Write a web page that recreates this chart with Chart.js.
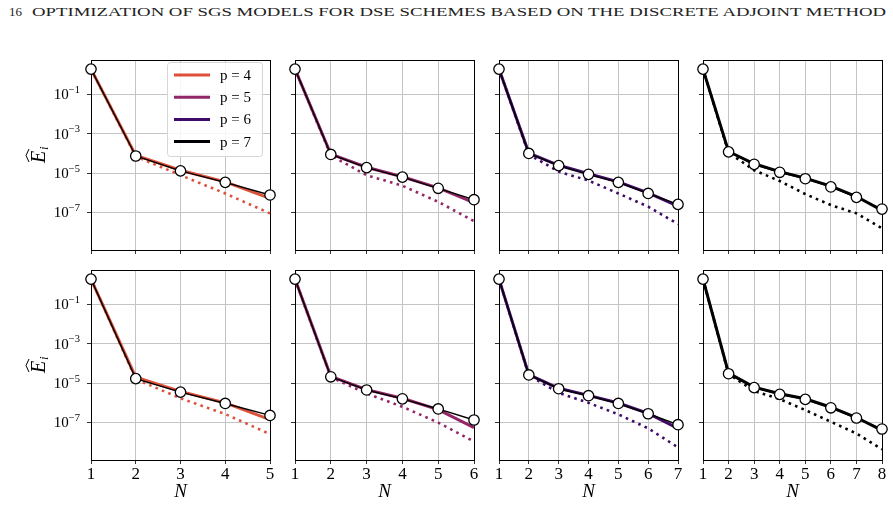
<!DOCTYPE html>
<html>
<head>
<meta charset="utf-8">
<script src="https://cdn.jsdelivr.net/npm/chart.js@4"></script>
<style>
  body { margin: 0; background: #fff; width: 893px; height: 505px; position: relative; overflow: hidden; }
  canvas { position: absolute; left: 0; top: 0; }
  .hd { position: absolute; top: 4px; font-family: "Liberation Serif", serif; font-size: 13px; color: #222; white-space: nowrap; transform-origin: 0 0; }
</style>
</head>
<body>
<div class="hd" id="pg" style="left:9px">16</div>
<div class="hd" id="title" style="left:32px">OPTIMIZATION OF SGS MODELS FOR DSE SCHEMES BASED ON THE DISCRETE ADJOINT METHOD</div>
<script>
const pLabels = ["p = 4", "p = 5", "p = 6", "p = 7"];
const pColors = ["#dd513a", "#932667", "#420a68", "#000004"];
const yTickVals = [1e-7, 1e-5, 1e-3, 1e-1];
const yTickExp = ["\u22127", "\u22125", "\u22123", "\u22121"];
const yMin = 1.26e-9;
const yMax = 5.5;

// top row, one panel per p
const topMarkP4 = [1.9, 7.4e-5, 1.3e-5, 3.4e-6, 7.8e-7];
const topSolidP4 = [1.9, 8.0e-5, 1.4e-5, 3.6e-6, 5.2e-7];
const topDotP4 = [1.9, 7.0e-5, 7.9e-6, 9.3e-7, 9.1e-8];

const topMarkP5 = [1.9, 8.9e-5, 1.9e-5, 6.3e-6, 1.7e-6, 4.5e-7];
const topSolidP5 = [1.9, 9.2e-5, 2.0e-5, 6.6e-6, 1.8e-6, 3.2e-7];
const topDotP5 = [1.9, 7.9e-5, 7.9e-6, 2.3e-6, 3.5e-7, 3.7e-8];

const topMarkP6 = [1.9, 1.0e-4, 2.4e-5, 8.7e-6, 3.4e-6, 9.3e-7, 2.6e-7];
const topSolidP6 = [1.9, 1.05e-4, 2.5e-5, 9.3e-6, 3.6e-6, 1.0e-6, 2.1e-7];
const topDotP6 = [1.9, 8.9e-5, 1.2e-5, 4.2e-6, 9.3e-7, 2.0e-7, 2.6e-8];

const topMarkP7 = [1.9, 1.2e-4, 2.8e-5, 1.1e-5, 5.2e-6, 2.0e-6, 5.9e-7, 1.5e-7];
const topSolidP7 = [1.9, 1.25e-4, 3.0e-5, 1.2e-5, 5.6e-6, 2.2e-6, 6.5e-7, 1.3e-7];
const topDotP7 = [1.9, 1.1e-4, 1.4e-5, 4.0e-6, 8.7e-7, 2.4e-7, 9.1e-8, 1.6e-8];

// bottom row
const botMarkP4 = [1.9, 1.7e-5, 3.5e-6, 9.3e-7, 2.3e-7];
const botSolidP4 = [1.9, 2.0e-5, 3.8e-6, 1.0e-6, 1.4e-7];
const botDotP4 = [1.9, 1.6e-5, 1.7e-6, 2.7e-7, 2.6e-8];

const botMarkP5 = [1.9, 2.1e-5, 4.5e-6, 1.6e-6, 4.9e-7, 1.35e-7];
const botSolidP5 = [1.9, 2.2e-5, 4.7e-6, 1.7e-6, 4.5e-7, 5.5e-8];
const botDotP5 = [1.9, 2.0e-5, 3.0e-6, 6.3e-7, 1.0e-7, 1.1e-8];

const botMarkP6 = [1.9, 2.6e-5, 5.2e-6, 2.3e-6, 9.3e-7, 2.8e-7, 7.8e-8];
const botSolidP6 = [1.9, 2.7e-5, 5.5e-6, 2.4e-6, 9.8e-7, 2.9e-7, 5.1e-8];
const botDotP6 = [1.9, 2.5e-5, 3.2e-6, 1.0e-6, 2.6e-7, 5.1e-8, 5.5e-9];

const botMarkP7 = [1.9, 3.0e-5, 5.9e-6, 2.7e-6, 1.5e-6, 5.6e-7, 1.7e-7, 4.7e-8];
const botSolidP7 = [1.9, 3.2e-5, 6.3e-6, 2.9e-6, 1.6e-6, 6.0e-7, 1.8e-7, 4.0e-8];
const botDotP7 = [1.9, 2.9e-5, 4.0e-6, 1.55e-6, 4.3e-7, 1.1e-7, 2.8e-8, 4.4e-9];

const panels = [
  { row: 0, col: 0, mark: topMarkP4, solid: topSolidP4, dot: topDotP4 },
  { row: 0, col: 1, mark: topMarkP5, solid: topSolidP5, dot: topDotP5 },
  { row: 0, col: 2, mark: topMarkP6, solid: topSolidP6, dot: topDotP6 },
  { row: 0, col: 3, mark: topMarkP7, solid: topSolidP7, dot: topDotP7 },
  { row: 1, col: 0, mark: botMarkP4, solid: botSolidP4, dot: botDotP4 },
  { row: 1, col: 1, mark: botMarkP5, solid: botSolidP5, dot: botDotP5 },
  { row: 1, col: 2, mark: botMarkP6, solid: botSolidP6, dot: botDotP6 },
  { row: 1, col: 3, mark: botMarkP7, solid: botSolidP7, dot: botDotP7 }
];

// page layout
const W = 893, H = 505;
const colLeft = [91, 295, 499, 703];
const rowTop = [60, 270];
const plotW = 179, plotH = 190;
const serif = '"Liberation Serif", "DejaVu Serif", serif';

const t = document.getElementById("title");
t.style.transform = "scaleX(" + (854 / t.getBoundingClientRect().width) + ")";

const pts = arr => arr.map((v, i) => ({ x: i + 1, y: v }));

const framePlugin = {
  id: "frame",
  beforeDatasetsDraw(chart) {
    const a = chart.chartArea, ctx = chart.ctx;
    ctx.save();
    ctx.strokeStyle = "#000";
    ctx.lineWidth = 1;
    ctx.strokeRect(Math.round(a.left) + 0.5, Math.round(a.top) + 0.5, Math.round(a.right - a.left), Math.round(a.bottom - a.top));
    ctx.restore();
  }
};

const decorPlugin = {
  id: "decor",
  afterDraw(chart, args, opts) {
    const ctx = chart.ctx, a = chart.chartArea;
    ctx.save();
    ctx.fillStyle = "#000";
    if (opts.col === 0) {
      // y tick labels 10^k
      const ys = chart.scales.y;
      yTickVals.forEach((v, i) => {
        const y = ys.getPixelForValue(v);
        ctx.font = "10.5px " + serif;
        const ew = ctx.measureText(yTickExp[i]).width;
        ctx.textAlign = "left";
        ctx.textBaseline = "middle";
        ctx.fillText(yTickExp[i], 80 - ew, y - 4);
        ctx.font = "15px " + serif;
        ctx.textAlign = "right";
        ctx.fillText("10", 80 - ew, y + 1);
      });
      // y title: E hat, subscript i
      const cy = (a.top + a.bottom) / 2;
      ctx.translate(38, cy);
      ctx.rotate(-Math.PI / 2);
      ctx.font = "italic 20px " + serif;
      ctx.textAlign = "left";
      ctx.textBaseline = "alphabetic";
      ctx.fillText("E", -8, 7);
      ctx.font = "italic 13px " + serif;
      ctx.fillText("i", 5, 10);
      ctx.beginPath();
      ctx.lineWidth = 1;
      ctx.moveTo(-7, -9);
      ctx.lineTo(-0.5, -12);
      ctx.lineTo(6, -9);
      ctx.strokeStyle = "#000";
      ctx.stroke();
      ctx.setTransform(1, 0, 0, 1, 0, 0);
    }
    if (opts.row === 1) {
      ctx.font = "italic 19px " + serif;
      ctx.textAlign = "center";
      ctx.textBaseline = "middle";
      ctx.fillText("N", (a.left + a.right) / 2, 492);
    }
    if (opts.legend) {
      ctx.beginPath();
      ctx.roundRect(167.5, 62.5, 95, 94, 3);
      ctx.fillStyle = "rgba(255,255,255,0.85)";
      ctx.fill();
      ctx.strokeStyle = "#d6d6d6";
      ctx.lineWidth = 1;
      ctx.stroke();
      pLabels.forEach((lab, i) => {
        const y = 75 + i * 22.2;
        ctx.beginPath();
        ctx.strokeStyle = pColors[i];
        ctx.lineWidth = 3;
        ctx.moveTo(174, y);
        ctx.lineTo(210, y);
        ctx.stroke();
        ctx.fillStyle = "#000";
        ctx.font = "15px " + serif;
        ctx.textAlign = "left";
        ctx.textBaseline = "middle";
        ctx.fillText(lab, 220, y + 1);
      });
    }
    ctx.restore();
  }
};

panels.forEach((pn, k) => {
  const cv = document.createElement("canvas");
  cv.width = W;
  cv.height = H;
  document.body.appendChild(cv);
  const n = pn.mark.length;
  const left = colLeft[pn.col], top = rowTop[pn.row];
  const col = pColors[pn.col];
  const xH = pn.row === 1 ? 24 : 4;
  new Chart(cv, {
    type: "line",
    data: {
      datasets: [
        { data: pts(pn.mark), borderColor: "#000", borderWidth: 1.4, pointRadius: 5.2, pointBackgroundColor: "#fff",
          pointBorderColor: "#000", pointBorderWidth: 1.3, clip: false, order: 0 },
        { data: pts(pn.solid), borderColor: col, borderWidth: 3, pointRadius: 0, clip: false, order: 1 },
        { data: pts(pn.dot), borderColor: col, borderWidth: 2.6, borderDash: [2.6, 4.3], pointRadius: 0, clip: false, order: 2 }
      ]
    },
    options: {
      responsive: false,
      animation: false,
      events: [],
      layout: { padding: { left: left - 4, top: top, right: W - (left + plotW), bottom: H - (top + plotH) - xH } },
      elements: { line: { tension: 0 } },
      scales: {
        x: {
          type: "linear", min: 1, max: n, bounds: "data",
          afterFit: s => { s.height = xH; s.paddingLeft = 0; s.paddingRight = 0; },
          ticks: { stepSize: 1, display: pn.row === 1, maxRotation: 0, autoSkip: false, padding: 0, color: "#000",
                   font: { family: serif, size: 17 } },
          grid: { color: "#c4c4c4", lineWidth: 1, tickLength: 4, tickColor: "#333" },
          border: { display: false }
        },
        y: {
          type: "logarithmic", min: yMin, max: yMax, bounds: "data",
          afterFit: s => { s.width = 4; },
          afterBuildTicks: s => { s.ticks = yTickVals.map(v => ({ value: v })); },
          ticks: { display: false },
          grid: { color: "#c4c4c4", lineWidth: 1, tickLength: 4, tickColor: "#333" },
          border: { display: false }
        }
      },
      plugins: {
        legend: { display: false },
        tooltip: { enabled: false },
        decor: { col: pn.col, row: pn.row, legend: k === 0 }
      }
    },
    plugins: [framePlugin, decorPlugin]
  });
});
</script>
</body>
</html>
